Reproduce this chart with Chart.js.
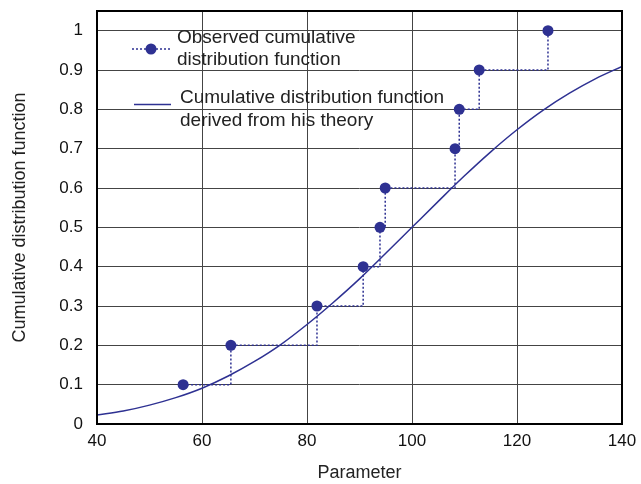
<!DOCTYPE html>
<html>
<head>
<meta charset="utf-8">
<script src="https://cdn.jsdelivr.net/npm/chart.js@4"></script>
<style>
  html, body { margin: 0; padding: 0; background: #fff; }
  #wrap { width: 641px; height: 484px; }
</style>
</head>
<body>
<div id="wrap"><canvas id="myChart" width="641" height="484"></canvas></div>
<script>
// observed points
const obsX = [56.4, 65.5, 81.9, 90.7, 93.9, 94.9, 108.2, 109, 112.8, 125.9];
const obsY = [0.1, 0.2, 0.3, 0.4, 0.5, 0.6, 0.7, 0.8, 0.9, 1.0];

// theoretical curve
const curveX = [40, 45, 50, 55, 60, 65, 70, 75, 80, 85, 90, 95, 100, 105, 110, 115, 120, 125, 130, 135, 140];
const curveY = [0.023, 0.033, 0.048, 0.067, 0.091, 0.122, 0.159, 0.202, 0.253, 0.309, 0.369, 0.434, 0.5,
                0.566, 0.631, 0.692, 0.748, 0.798, 0.841, 0.878, 0.909];

const xTicks = [40, 60, 80, 100, 120, 140];
const legendText = [
  ['Observed cumulative', 'distribution function'],
  ['Cumulative distribution function', 'derived from his theory']
];

const blue = '#2e3192';
const font = '"Liberation Sans", Arial, sans-serif';

const frameAndLegend = {
  id: 'frameAndLegend',
  afterDraw(chart) {
    const ctx = chart.ctx;
    const a = chart.chartArea;
    ctx.save();
    ctx.strokeStyle = '#000';
    ctx.lineWidth = 2;
    ctx.strokeRect(a.left, a.top, a.right - a.left, a.bottom - a.top);

    // legend
    const lx = a.left;
    const ty = a.top;
    ctx.strokeStyle = blue;
    ctx.lineWidth = 1.5;
    ctx.setLineDash([2, 2]);
    ctx.beginPath();
    ctx.moveTo(lx + 35, ty + 38);
    ctx.lineTo(lx + 73, ty + 38);
    ctx.stroke();
    ctx.setLineDash([]);
    ctx.fillStyle = blue;
    ctx.beginPath();
    ctx.arc(lx + 54, ty + 38, 5.5, 0, Math.PI * 2);
    ctx.fill();
    ctx.beginPath();
    ctx.moveTo(lx + 37, ty + 93.5);
    ctx.lineTo(lx + 74, ty + 93.5);
    ctx.stroke();

    ctx.fillStyle = '#222';
    ctx.font = '19px ' + font;
    ctx.textBaseline = 'middle';
    ctx.fillText(legendText[0][0], lx + 80, ty + 26.5);
    ctx.fillText(legendText[0][1], lx + 80, ty + 48.5);
    ctx.fillText(legendText[1][0], lx + 83, ty + 87);
    ctx.fillText(legendText[1][1], lx + 83, ty + 110);
    ctx.restore();
  }
};

const data = {
  datasets: [{
    label: 'Cumulative distribution function derived from his theory',
    data: curveX.map((x, i) => ({ x: x, y: curveY[i] })),
    borderColor: blue,
    borderWidth: 1.5,
    pointRadius: 0,
    cubicInterpolationMode: 'monotone',
    fill: false,
    order: 2
  },
  {
    label: 'Observed cumulative distribution function',
    data: obsX.map((x, i) => ({ x: x, y: obsY[i] })),
    borderColor: blue,
    borderWidth: 1.5,
    borderDash: [2, 2],
    stepped: 'before',
    pointRadius: 5.5,
    pointBackgroundColor: blue,
    pointBorderWidth: 0,
    fill: false,
    order: 1
  }]
};

const config = {
  type: 'line',
  data: data,
  plugins: [frameAndLegend],
  options: {
    responsive: false,
    animation: false,
    layout: { padding: { left: 0, right: 19, top: 11, bottom: 0 } },
    plugins: {
      legend: { display: false },
      tooltip: { enabled: false }
    },
    scales: {
      x: {
        type: 'linear',
        min: 40,
        max: 140,
        afterBuildTicks: s => { s.ticks = xTicks.map(v => ({ value: v })); },
        afterFit: s => { s.height = 60; s.paddingLeft = 0; s.paddingRight = 0; },
        ticks: { color: '#111', font: { size: 17, family: font }, padding: 7 },
        grid: { color: '#444', lineWidth: 1, drawTicks: false },
        border: { display: false },
        title: {
          display: true, text: 'Parameter', color: '#222',
          font: { size: 18, family: font }, padding: { top: 0, bottom: 0 }
        }
      },
      y: {
        min: 0,
        max: 1.05,
        afterFit: s => { s.width = 97; s.paddingTop = 0; s.paddingBottom = 0; },
        ticks: {
          stepSize: 0.1,
          includeBounds: false,
          color: '#111',
          font: { size: 17, family: font },
          padding: 14,
          callback: v => String(Math.round(v * 10) / 10)
        },
        grid: { color: '#444', lineWidth: 1, drawTicks: false },
        border: { display: false },
        title: {
          display: true, text: 'Cumulative distribution function', color: '#222',
          font: { size: 18, family: font }, padding: { top: 9.5, bottom: 0 }
        }
      }
    }
  }
};

const myChart = new Chart(document.getElementById('myChart'), config);
</script>
</body>
</html>
